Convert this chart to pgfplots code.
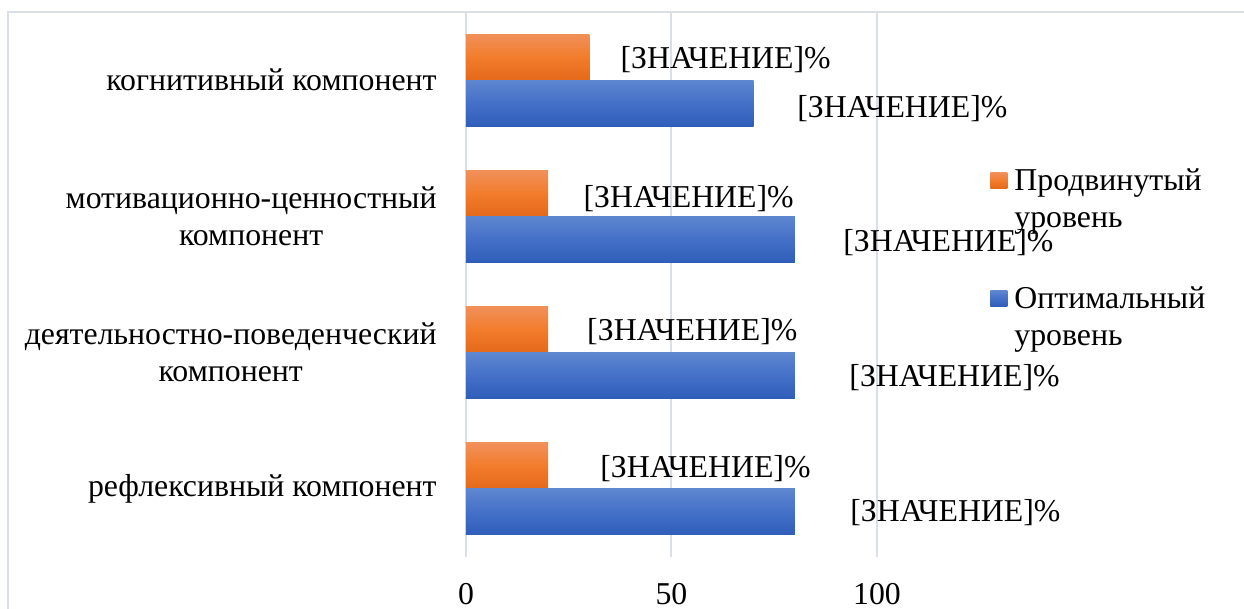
\documentclass[border=0pt]{standalone}
\usepackage{fontspec}
\setmainfont{Liberation Serif}
\usepackage{pgfplots}
\pgfplotsset{compat=1.18}
\definecolor{gridc}{HTML}{DADFE6}
\definecolor{orT}{HTML}{F1905A}
\definecolor{orM}{HTML}{F27C2C}
\definecolor{orB}{HTML}{E4691A}
\definecolor{blT}{HTML}{5E87D0}
\definecolor{blM}{HTML}{4470C8}
\definecolor{blB}{HTML}{2F5EB8}
\newcommand{\lfont}{\fontsize{15.9pt}{18.5pt}\selectfont}
\begin{document}
\begin{tikzpicture}
\useasboundingbox (0,0) rectangle (622pt,-304.5pt);
\draw[gridc, line width=0.9pt] (4pt,-330pt) -- (4pt,-6pt) -- (650pt,-6pt);
\begin{axis}[
  at={(233pt,-278.5pt)}, anchor=south west,
  scale only axis, width=205.5pt, height=272.5pt,
  xbar, bar width=0.337,
  xmin=0, xmax=100, ymin=-0.5, ymax=3.5,
  xtick={0,50,100},
  ytick={0,1,2,3},
  yticklabels={рефлексивный компонент, {деятельностно-поведенческий\\компонент}, {мотивационно-ценностный\\компонент}, когнитивный компонент},
  axis line style={draw=none},
  major tick length=0pt,
  xmajorgrids, grid style={gridc, line width=1pt},
  clip=false,
  /pgf/number format/assume math mode=true,
  tick label style={font=\lfont},
  xticklabel style={anchor=base, inner sep=0pt, yshift=-23.8pt},
  yticklabel style={anchor=east, align=center, inner sep=0pt, xshift=-14.5pt},
  legend style={at={(1.275,0.713)}, anchor=north west, draw=none, fill=none,
    inner sep=0pt, row sep=28pt, column sep=3.5pt,
    nodes={inner sep=0pt, anchor=west, align=left, font=\lfont}},
  legend cell align=left,
  legend image code/.code={\path[#1] (0pt,5.5pt) rectangle (8.5pt,13.5pt);},
]
% Продвинутый уровень (orange)
\addplot[draw=none, top color=orT, bottom color=orB, middle color=orM, bar shift=0.1685] coordinates {(30,3)};
\addlegendentry{Продвинутый\\уровень}
\addplot[draw=none, top color=orT, bottom color=orB, middle color=orM, bar shift=0.1685, forget plot] coordinates {(20,2)};
\addplot[draw=none, top color=orT, bottom color=orB, middle color=orM, bar shift=0.1685, forget plot] coordinates {(20,1)};
\addplot[draw=none, top color=orT, bottom color=orB, middle color=orM, bar shift=0.1685, forget plot] coordinates {(20,0)};
% Оптимальный уровень (blue)
\addplot[draw=none, top color=blT, bottom color=blB, middle color=blM, bar shift=-0.1685] coordinates {(70,3)};
\addlegendentry{Оптимальный\\уровень}
\addplot[draw=none, top color=blT, bottom color=blB, middle color=blM, bar shift=-0.1685, forget plot] coordinates {(80,2)};
\addplot[draw=none, top color=blT, bottom color=blB, middle color=blM, bar shift=-0.1685, forget plot] coordinates {(80,1)};
\addplot[draw=none, top color=blT, bottom color=blB, middle color=blM, bar shift=-0.1685, forget plot] coordinates {(80,0)};
% data labels
\begin{scope}[every node/.style={anchor=west, inner sep=0pt, font=\lfont}]
\node at (axis cs:37.5,3.150) {[ЗНАЧЕНИЕ]\%};
\node at (axis cs:80.5,2.790) {[ЗНАЧЕНИЕ]\%};
\node at (axis cs:28.5,2.130) {[ЗНАЧЕНИЕ]\%};
\node at (axis cs:91.7,1.807) {[ЗНАЧЕНИЕ]\%};
\node at (axis cs:29.4,1.154) {[ЗНАЧЕНИЕ]\%};
\node at (axis cs:93.2,0.816) {[ЗНАЧЕНИЕ]\%};
\node at (axis cs:32.6,0.149) {[ЗНАЧЕНИЕ]\%};
\node at (axis cs:93.4,-0.174) {[ЗНАЧЕНИЕ]\%};
\end{scope}
\end{axis}
\end{tikzpicture}
\end{document}
